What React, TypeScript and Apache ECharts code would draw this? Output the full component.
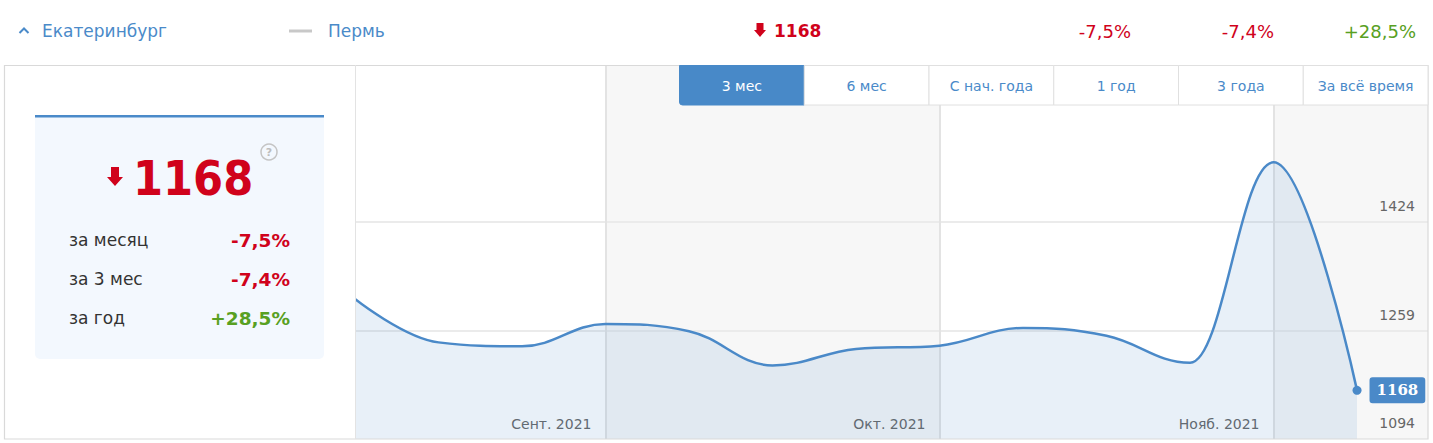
import React, { useEffect, useRef } from "react";
import * as echarts from "echarts";

// ---- data ----
const values = [1307, 1241, 1235, 1269, 1258, 1206, 1231, 1236, 1263, 1251, 1210, 1515, 1168];
const monthTicks = [3, 7, 11];
const monthLabels = ["Сент. 2021", "Окт. 2021", "Нояб. 2021"];
const yTicks = [1094, 1259, 1424];
const yMin = 1094;
const yMax = 1663;
const yStep = 165;
const xMax = 12.85;
const rangeButtons = ["3 мес", "6 мес", "С нач. года", "1 год", "3 года", "За всё время"];
const activeButton = 0;
const cityName = "Екатеринбург";
const compareCity = "Пермь";
const currentValue = "1168";
const summaryLabels = ["за месяц", "за 3 мес", "за год"];
const summaryValues = ["-7,5%", "-7,4%", "+28,5%"];

const BLUE = "#4a89c8";
const TEXT_BLUE = "#4a8ac9";
const RED = "#d0021b";
const GREEN = "#58a022";
const FONT = "'DejaVu Sans', Verdana, sans-serif";
const FONT_C = "'DejaVu Sans Condensed', 'DejaVu Sans', sans-serif";

function valColor(s: string) {
  return s.startsWith("+") ? GREEN : RED;
}

// spline through pixel points (flat tangents at extremes, no overshoot)
function splinePath(pts: number[][]): string {
  const smoothing = 1.5;
  const denom = smoothing + 1;
  const n = pts.length;
  const left: (number[] | null)[] = new Array(n).fill(null);
  const right: (number[] | null)[] = new Array(n).fill(null);
  for (let i = 1; i < n - 1; i++) {
    const [px, py] = pts[i];
    const [lx, ly] = pts[i - 1];
    const [nx, ny] = pts[i + 1];
    const lcx = (smoothing * px + lx) / denom;
    let lcy = (smoothing * py + ly) / denom;
    const rcx = (smoothing * px + nx) / denom;
    let rcy = (smoothing * py + ny) / denom;
    let corr = 0;
    if (rcx !== lcx) corr = ((rcy - lcy) * (rcx - px)) / (rcx - lcx) + py - rcy;
    lcy += corr;
    rcy += corr;
    if (lcy > ly && lcy > py) {
      lcy = Math.max(ly, py);
      rcy = 2 * py - lcy;
    } else if (lcy < ly && lcy < py) {
      lcy = Math.min(ly, py);
      rcy = 2 * py - lcy;
    }
    if (rcy > ny && rcy > py) {
      rcy = Math.max(ny, py);
      lcy = 2 * py - rcy;
    } else if (rcy < ny && rcy < py) {
      rcy = Math.min(ny, py);
      lcy = 2 * py - rcy;
    }
    left[i] = [lcx, lcy];
    right[i] = [rcx, rcy];
  }
  let d = `M${pts[0][0]},${pts[0][1]}`;
  for (let i = 1; i < n; i++) {
    const c1 = right[i - 1] || pts[i - 1];
    const c2 = left[i] || pts[i];
    d += ` C${c1[0]},${c1[1]} ${c2[0]},${c2[1]} ${pts[i][0]},${pts[i][1]}`;
  }
  return d;
}

export default function App() {
  const ref = useRef<HTMLDivElement>(null);
  useEffect(() => {
    if (!ref.current) return;
    const chart = echarts.init(ref.current, undefined, { renderer: "svg" });

    const lineData = values.map((v, i) => [i, v]);
    const last = values.length - 1;

    const graphics: any[] = [];
    graphics.push({
      type: "rect",
      z: 50,
      silent: true,
      shape: { x: 4.5, y: 65.5, width: 1423.5, height: 373.5 },
      style: { fill: "none", stroke: "#d9d9d9", lineWidth: 1.2 },
    });
    graphics.push({
      type: "line",
      z: 50,
      shape: { x1: 355.5, y1: 65, x2: 355.5, y2: 439 },
      style: { stroke: "#e3e3e3", lineWidth: 1 },
    });
    graphics.push({
      type: "rect",
      z: 50,
      shape: { x: 35, y: 115, width: 289, height: 244, r: [0, 0, 5, 5] },
      style: { fill: "#f3f8fe" },
    });
    graphics.push({
      type: "rect",
      z: 51,
      shape: { x: 35, y: 115, width: 289, height: 2.5 },
      style: { fill: TEXT_BLUE },
    });
    graphics.push({
      type: "polygon",
      z: 51,
      shape: {
        points: [
          [111, 167], [119, 167], [119, 177], [123, 177], [115, 186], [107, 177], [111, 177],
        ],
      },
      style: { fill: RED },
    });
    graphics.push({
      type: "text",
      z: 51,
      x: 133,
      y: 178,
      style: {
        text: currentValue,
        fill: RED,
        font: "bold 48px " + FONT_C,
        verticalAlign: "middle",
        align: "left",
      },
    });
    graphics.push({
      type: "circle",
      z: 51,
      shape: { cx: 269, cy: 152, r: 8 },
      style: { fill: "none", stroke: "#c4c4c4", lineWidth: 1.5 },
    });
    graphics.push({
      type: "text",
      z: 51,
      x: 269,
      y: 152.5,
      style: {
        text: "?",
        fill: "#bdbdbd",
        font: "bold 11px " + FONT,
        align: "center",
        verticalAlign: "middle",
      },
    });
    summaryLabels.forEach((lab, i) => {
      const y = 240 + i * 39;
      graphics.push({
        type: "text",
        z: 51,
        x: 69,
        y,
        style: { text: lab, fill: "#333333", font: "17px " + FONT, verticalAlign: "middle" },
      });
      graphics.push({
        type: "text",
        z: 51,
        x: 290,
        y,
        style: {
          text: summaryValues[i],
          fill: valColor(summaryValues[i]),
          font: "bold 18.5px " + FONT,
          align: "right",
          verticalAlign: "middle",
        },
      });
    });
    graphics.push({
      type: "polyline",
      z: 51,
      shape: { points: [[19.5, 33], [24, 28.5], [28.5, 33]] },
      style: { stroke: TEXT_BLUE, lineWidth: 2, fill: "none" },
    });
    graphics.push({
      type: "text",
      z: 51,
      x: 42,
      y: 31,
      style: { text: cityName, fill: TEXT_BLUE, font: "17px " + FONT, verticalAlign: "middle" },
    });
    graphics.push({
      type: "rect",
      z: 51,
      shape: { x: 289, y: 29.5, width: 23, height: 3 },
      style: { fill: "#c8c8c8" },
    });
    graphics.push({
      type: "text",
      z: 51,
      x: 328,
      y: 31,
      style: { text: compareCity, fill: TEXT_BLUE, font: "17px " + FONT, verticalAlign: "middle" },
    });
    graphics.push({
      type: "polygon",
      z: 51,
      shape: {
        points: [
          [756.5, 23], [763.5, 23], [763.5, 30], [766, 30], [760, 37], [754, 30], [756.5, 30],
        ],
      },
      style: { fill: RED },
    });
    graphics.push({
      type: "text",
      z: 51,
      x: 774,
      y: 31,
      style: { text: currentValue, fill: RED, font: "bold 17px " + FONT, verticalAlign: "middle" },
    });
    const topRight = [1131, 1274, 1416];
    summaryValues.forEach((v, i) => {
      graphics.push({
        type: "text",
        z: 51,
        x: topRight[i],
        y: 31,
        style: {
          text: v,
          fill: valColor(v),
          font: "18px " + FONT,
          align: "right",
          verticalAlign: "middle",
        },
      });
    });
    const bx0 = 679.5;
    const bw = (1428 - bx0) / rangeButtons.length;
    rangeButtons.forEach((b, i) => {
      const active = i === activeButton;
      graphics.push({
        type: "rect",
        z: 60,
        shape: { x: bx0 + i * bw, y: 65.5, width: bw, height: 39.5, r: active ? [0, 0, 0, 3] : 0 },
        style: {
          fill: active ? "#4889c8" : "#ffffff",
          stroke: active ? "#4889c8" : "#e0e0e0",
          lineWidth: 1,
        },
      });
      graphics.push({
        type: "text",
        z: 61,
        x: bx0 + i * bw + bw / 2,
        y: 86,
        style: {
          text: b,
          fill: active ? "#ffffff" : TEXT_BLUE,
          font: "14px " + FONT,
          align: "center",
          verticalAlign: "middle",
        },
      });
    });

    const splitColors = [
      "transparent",
      "#ebebeb",
      "#ebebeb",
      "transparent",
      "transparent",
      "transparent",
    ];

    chart.setOption({
      animation: false,
      textStyle: { fontFamily: FONT },
      grid: { left: 355, right: 5, top: 65, bottom: 4, containLabel: false },
      xAxis: {
        type: "value",
        min: 0,
        max: xMax,
        interval: 1,
        z: 1.5,
        axisLine: { show: false },
        axisTick: { show: false },
        splitLine: { show: false },
        axisLabel: {
          inside: true,
          margin: 8,
          color: "#666666",
          fontSize: 14,
          align: "right",
          padding: [0, 14, 0, 0],
          formatter: (v: number) => {
            const k = monthTicks.indexOf(Math.round(v));
            return k >= 0 && Math.abs(v - Math.round(v)) < 1e-6 ? monthLabels[k] : "";
          },
        },
      },
      yAxis: {
        type: "value",
        position: "right",
        min: yMin,
        max: yMax,
        interval: yStep,
        z: 1.5,
        axisLine: { show: false },
        axisTick: { show: false },
        axisLabel: {
          inside: true,
          margin: 13,
          color: "#666666",
          fontSize: 14,
          verticalAlign: "bottom",
          padding: [0, 0, 9, 0],
          formatter: (v: number) => (yTicks.indexOf(Math.round(v)) >= 0 ? String(Math.round(v)) : ""),
        },
        splitLine: { show: true, lineStyle: { color: splitColors, width: 2 } },
      },
      graphic: { elements: graphics },
      series: [
        {
          type: "custom",
          z: 2,
          data: lineData,
          encode: { x: 0, y: 1 },
          clip: true,
          renderItem: (params: any, api: any) => {
            if (params.dataIndex !== 0) return null;
            const pts = values.map((v, i) => api.coord([i, v]));
            const d = splinePath(pts);
            const base = api.coord([0, yMin])[1];
            const areaD = `${d} L${pts[last][0]},${base} L${pts[0][0]},${base} Z`;
            return {
              type: "group",
              children: [
                {
                  type: "path",
                  shape: { pathData: areaD },
                  style: { fill: "rgba(74,137,200,0.127)", stroke: "none" },
                },
                {
                  type: "path",
                  shape: { pathData: d },
                  style: { fill: "none", stroke: BLUE, lineWidth: 2.5, lineJoin: "round" },
                },
              ],
            };
          },
        },
        {
          type: "scatter",
          z: 3,
          data: [[last, values[last]]],
          symbol: "circle",
          symbolSize: 9,
          itemStyle: { color: BLUE, opacity: 1 },
          label: {
            show: true,
            position: "right",
            distance: 8,
            formatter: (p: any) => String(p.value[1]),
            color: "#ffffff",
            backgroundColor: BLUE,
            borderRadius: 3,
            padding: [5, 7, 5, 7],
            lineHeight: 16,
            fontFamily: "'DejaVu Serif', serif",
            fontWeight: "bold",
            fontSize: 15,
          },
          markArea: {
            silent: true,
            z: 1,
            itemStyle: { color: "#f7f7f7", opacity: 1 },
            data: [
              [{ xAxis: monthTicks[0] }, { xAxis: monthTicks[1] }],
              [{ xAxis: monthTicks[2] }, { xAxis: xMax }],
            ],
          },
          markLine: {
            silent: true,
            z: 1.6,
            symbol: "none",
            label: { show: false },
            lineStyle: { color: "#e3e3e3", width: 2, type: "solid", opacity: 1 },
            data: monthTicks.map((t) => ({ xAxis: t })),
          },
        },
      ],
    });
    return () => chart.dispose();
  }, []);
  return (
    <div
      ref={ref}
      style={{ position: "fixed", left: 0, top: 0, width: 1433, height: 443, background: "#ffffff" }}
    />
  );
}
